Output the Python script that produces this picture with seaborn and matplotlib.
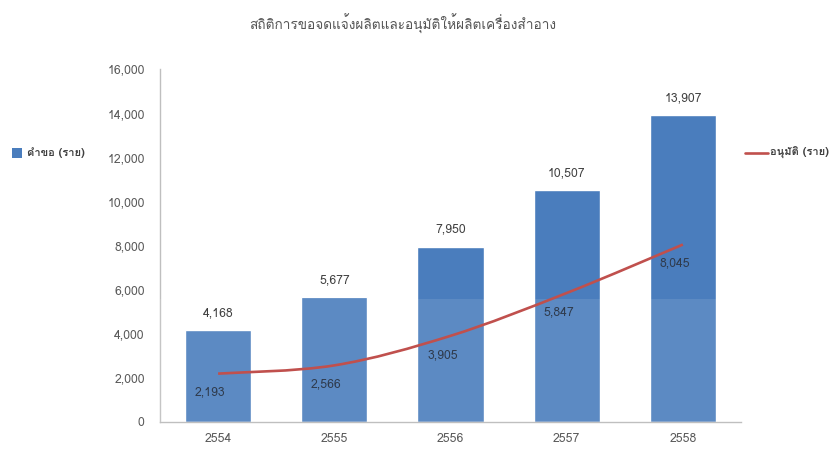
import matplotlib
matplotlib.use("Agg")
import matplotlib.pyplot as plt
from matplotlib import font_manager, ft2font
from matplotlib.path import Path
from matplotlib.patches import PathPatch, Rectangle
from matplotlib.lines import Line2D
import numpy as np
import pandas as pd
import seaborn as sns

# Data
years = ["2554", "2555", "2556", "2557", "2558"]
requests = [4168, 5677, 7950, 10507, 13907]
approved = [2193, 2566, 3905, 5847, 8045]

title = "สถิติการขอจดแจ้งผลิตและอนุมัติให้ผลิตเครื่องสำอาง"
bar_legend = "คำขอ (ราย)"
line_legend = "อนุมัติ (ราย)"

sns.set_theme(style="white")


def thai_family():
    """Pick an installed family that carries Thai glyphs."""
    seen = set()
    for f in font_manager.fontManager.ttflist:
        if f.name in seen:
            continue
        seen.add(f.name)
        try:
            cmap = ft2font.FT2Font(f.fname).get_charmap()
        except Exception:
            continue
        if 0x0E01 in cmap and 0x0E33 in cmap:
            return f.name
    return None


fam = thai_family()
families = ([fam] if fam else []) + ["DejaVu Sans"]
plt.rcParams["font.family"] = families

BAR = "#4a7dbd"
LINE = "#c0504d"
GRID = "#bfbfbf"
TXT = "#595959"

fig = plt.figure(figsize=(8.37, 4.53), dpi=100)
ax = fig.add_axes([160 / 837, 1 - 422 / 453, 581 / 837, (422 - 69) / 453])

df = pd.DataFrame({"year": years, "requests": requests, "approved": approved})
sns.barplot(data=df, x="year", y="requests", color=BAR, saturation=1,
            width=0.57, ax=ax, zorder=2)

ax.set_xlim(-0.5, 4.5)
ax.set_ylim(0, 16000)
ax.set_yticks(np.arange(0, 16001, 2000))
ax.set_yticklabels([f"{v:,}" for v in range(0, 16001, 2000)])
ax.set_xlabel("")
ax.set_ylabel("")
ax.tick_params(axis="y", length=0, pad=11, labelsize=8.8, labelcolor=TXT)
ax.tick_params(axis="x", length=0, pad=8, labelsize=8.8, labelcolor=TXT)
for s in ["top", "right"]:
    ax.spines[s].set_visible(False)
for s in ["left", "bottom"]:
    ax.spines[s].set_color(GRID)
    ax.spines[s].set_linewidth(1)

# lighter lower band across the bars
ax.axhspan(0, 5580, color="white", alpha=0.1, zorder=3, lw=0)

# smoothed approval curve (Catmull-Rom as cubic Bezier segments)
xs = np.arange(len(approved), dtype=float)
ys = np.array(approved, dtype=float)
px = np.concatenate([[xs[0]], xs, [xs[-1]]])
py = np.concatenate([[ys[0]], ys, [ys[-1]]])
verts = [(xs[0], ys[0])]
codes = [Path.MOVETO]
for i in range(1, len(xs)):
    j = i + 1  # index in padded arrays of point i
    c1 = (px[j - 1] + (px[j] - px[j - 2]) / 6, py[j - 1] + (py[j] - py[j - 2]) / 6)
    c2 = (px[j] - (px[j + 1] - px[j - 1]) / 6, py[j] - (py[j + 1] - py[j - 1]) / 6)
    verts += [c1, c2, (xs[i], ys[i])]
    codes += [Path.CURVE4] * 3
ax.add_patch(PathPatch(Path(verts, codes), fill=False, edgecolor=LINE,
                       lw=1.9, zorder=4, capstyle="butt"))

# value labels
for i, v in enumerate(requests):
    ax.annotate(f"{v:,}", (i, v), xytext=(0, 17), textcoords="offset pixels",
                ha="center", va="center", fontsize=8.8, color="#404040", zorder=5)
for i, v in enumerate(approved):
    ax.annotate(f"{v:,}", (i, v), xytext=(-8, -19), textcoords="offset pixels",
                ha="center", va="center", fontsize=8.8, color="#2f3b4d", zorder=5)

# title
fig.text(403 / 837, 1 - 24 / 453, title, ha="center", va="center",
         fontsize=9.8, color="#555555")

# left legend: bar swatch
fig.patches.append(Rectangle((12 / 837, 1 - 158 / 453), 10 / 837, 10 / 453,
                             transform=fig.transFigure, facecolor=BAR,
                             edgecolor="none"))
fig.text(27 / 837, 1 - 153 / 453, bar_legend, ha="left", va="center",
         fontsize=8, color="#404040", fontweight="bold")

# right legend: line sample
fig.lines.append(Line2D([745 / 837, 768 / 837], [1 - 153 / 453, 1 - 153 / 453],
                        transform=fig.transFigure, color=LINE, lw=1.9))
fig.text(770 / 837, 1 - 153 / 453, line_legend, ha="left", va="center",
         fontsize=8, color="#404040", fontweight="bold")

fig.savefig("out.png", dpi=100, facecolor="white")
